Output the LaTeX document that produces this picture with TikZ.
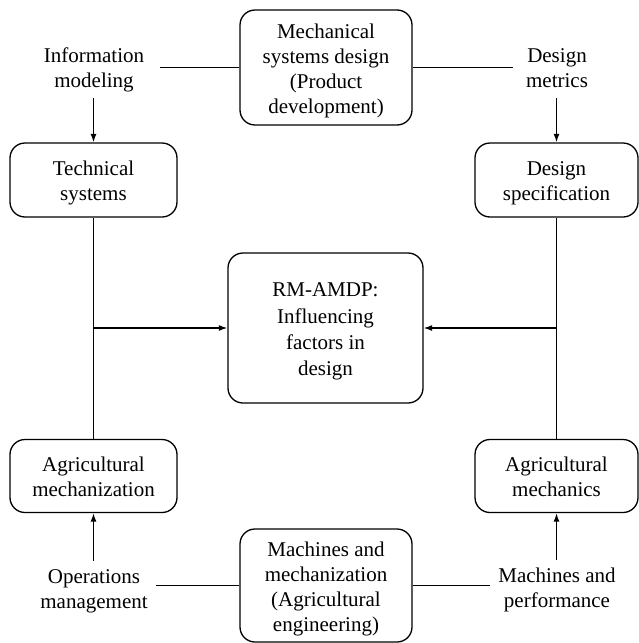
\documentclass[tikz,border=0pt]{standalone}
\usepackage{fontspec}
\setmainfont{Liberation Serif}
\usetikzlibrary{arrows.meta}
\newcommand\lowtext[1]{\raisebox{-3pt}[\height][\depth]{\begin{tabular}{@{}c@{}}#1\end{tabular}}}
\begin{document}
\begin{tikzpicture}[x=1pt,y=-1pt,
  every node/.style={font=\fontsize{21}{25}\selectfont, align=center},
  box/.style={draw, rounded corners=15pt, line width=1.3pt, inner sep=0pt},
  lbl/.style={inner sep=0pt},
  conn/.style={line width=1.3pt},
  arr/.style={conn, -{Latex[length=8.5pt,width=6pt]}}]
\useasboundingbox (0,0) rectangle (639,643);
% boxes
\node[box, minimum width=172pt, minimum height=115pt] (top) at (326,67.5)
  {\lowtext{Mechanical\\systems design\\(Product\\development)}};
\node[box, minimum width=167pt, minimum height=74pt] (tech) at (93.5,180)
  {\lowtext{Technical\\systems}};
\node[box, minimum width=163pt, minimum height=74pt] (spec) at (556.5,180)
  {\lowtext{Design\\specification}};
\node[box, minimum width=195pt, minimum height=150pt, font=\fontsize{21}{26.3}\selectfont] (center) at (325.5,328)
  {\lowtext{RM-AMDP:\\Influencing\\factors in\\design}};
\node[box, minimum width=167pt, minimum height=73pt] (agmech) at (93.5,476)
  {\lowtext{Agricultural\\mechanization}};
\node[box, minimum width=163pt, minimum height=73pt] (agmechs) at (556.5,476)
  {\lowtext{Agricultural\\mechanics}};
\node[box, minimum width=172pt, minimum height=113pt] (bottom) at (326,585.5)
  {\lowtext{Machines and\\mechanization\\(Agricultural\\engineering)}};
% labels
\node[lbl] (info) at (94,67) {\lowtext{Information\\modeling}};
\node[lbl] (metrics) at (557,67) {\lowtext{Design\\metrics}};
\node[lbl] (ops) at (94,588) {\lowtext{Operations\\management}};
\node[lbl] (perf) at (557,587) {\lowtext{Machines and\\performance}};
% connectors
\draw[conn, shorten <=16pt] (info.east |- top.west) -- (top.west);
\draw[conn, shorten <=13pt] (metrics.west |- top.east) -- (top.east);
\draw[conn, shorten <=8pt] (ops.east |- bottom.west) -- (bottom.west);
\draw[conn, shorten <=8pt] (perf.west |- bottom.east) -- (bottom.east);
\draw[arr, shorten <=6pt] (info.south -| tech.north) -- (tech.north);
\draw[arr, shorten <=6pt] (metrics.south -| spec.north) -- (spec.north);
\draw[arr, shorten <=2pt] (ops.north -| agmech.south) -- (agmech.south);
\draw[arr, shorten <=2pt] (perf.north -| agmechs.south) -- (agmechs.south);
\draw[conn] (tech.south) -- (agmech.north);
\draw[conn] (spec.south) -- (agmechs.north);
\coordinate (jl) at (tech.south |- center.west);
\coordinate (jr) at (spec.south |- center.east);
\draw[arr] (jl) -- (center.west);
\draw[arr] (jr) -- (center.east);
\end{tikzpicture}
\end{document}
